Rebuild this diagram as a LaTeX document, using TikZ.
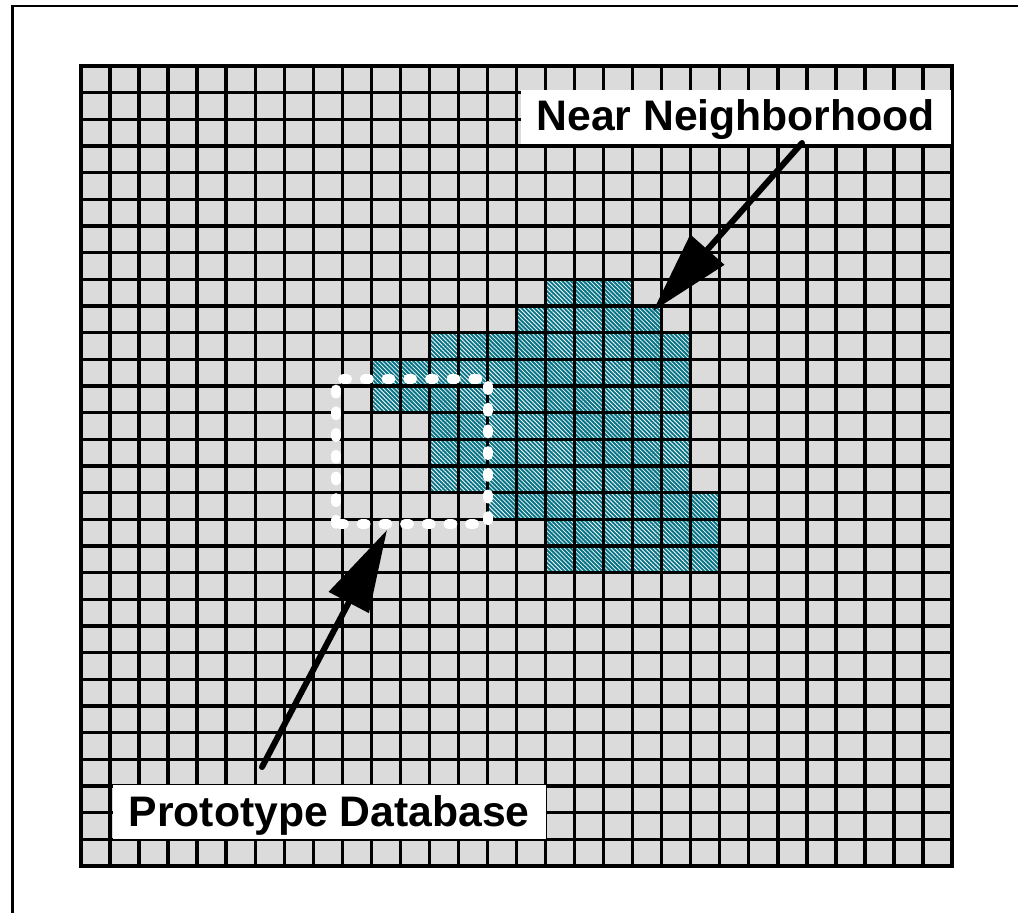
\documentclass[tikz,border=0pt]{standalone}
\usepackage{fontspec}
\setmainfont{Liberation Sans}
\usetikzlibrary{arrows.meta,patterns.meta}
\definecolor{cellgray}{RGB}{219,219,219}
\definecolor{cellteal}{RGB}{8,116,134}

\begin{document}
\begin{tikzpicture}[x=1pt,y=-1pt,
  gridline/.style={line width=3.4pt,black},
  calloutbox/.style={fill=white,inner sep=0pt,minimum height=54pt,
    font=\fontsize{42.7}{50}\selectfont\bfseries,text height=30.7pt,text depth=3pt},
  callarrow/.style={line width=6pt,line cap=round,-{Triangle[length=82pt,width=44pt]}},
  dbframe/.style={white,line width=9.5pt,line cap=round,dash pattern=on 4.4pt off 17.3pt},
  hotcell/.style={fill=cellteal,postaction={pattern={Lines[angle=-45,distance=3pt,line width=0.8pt]},pattern color=white}}
]
\useasboundingbox (0,0) rectangle (1018,913);

% page frame (top and left)
\draw[line width=2.5pt] (12.3,913) -- (12.3,6) -- (1018,6);

% 30 x 30 cell field
\fill[cellgray] (81,66) rectangle (952,866);

% neighbourhood cells: row / first column / last column
\foreach \r/\a/\b in {8/16/18, 9/15/19, 10/12/20, 11/10/20, 12/10/20, 13/12/20,
                      14/12/20, 15/12/20, 16/14/21, 17/16/21, 18/16/21}
  \path[hotcell] ({81+\a*29.0333},{66+\r*26.6667}) rectangle ({81+(\b+1)*29.0333},{66+(\r+1)*26.6667});

% grid lines
\foreach \i in {0,...,30} {
  \draw[gridline] ({81+\i*29.0333},66) -- ({81+\i*29.0333},866);
  \draw[gridline] (81,{66+\i*26.6667}) -- (952,{66+\i*26.6667});
}
\draw[gridline] (81,66) rectangle (952,866);

% prototype database outline
\draw[dbframe] (336,524) -- (336,379) -- (488,379) -- (488,524) -- cycle;

% labels
\node[calloutbox,minimum width=430pt] (near) at (735.7,117) {Near Neighborhood};
\node[calloutbox,minimum width=433pt] (proto) at (329.2,812.2) {Prototype Database};

% arrows
\coordinate (neartail) at (802,143);
\coordinate (neartip) at (653,311);
\coordinate (prototail) at (262,767);
\coordinate (prototip) at (387,530);
\draw[callarrow] (neartail) -- (neartip);
\draw[callarrow] (prototail) -- (prototip);
\end{tikzpicture}
\end{document}
